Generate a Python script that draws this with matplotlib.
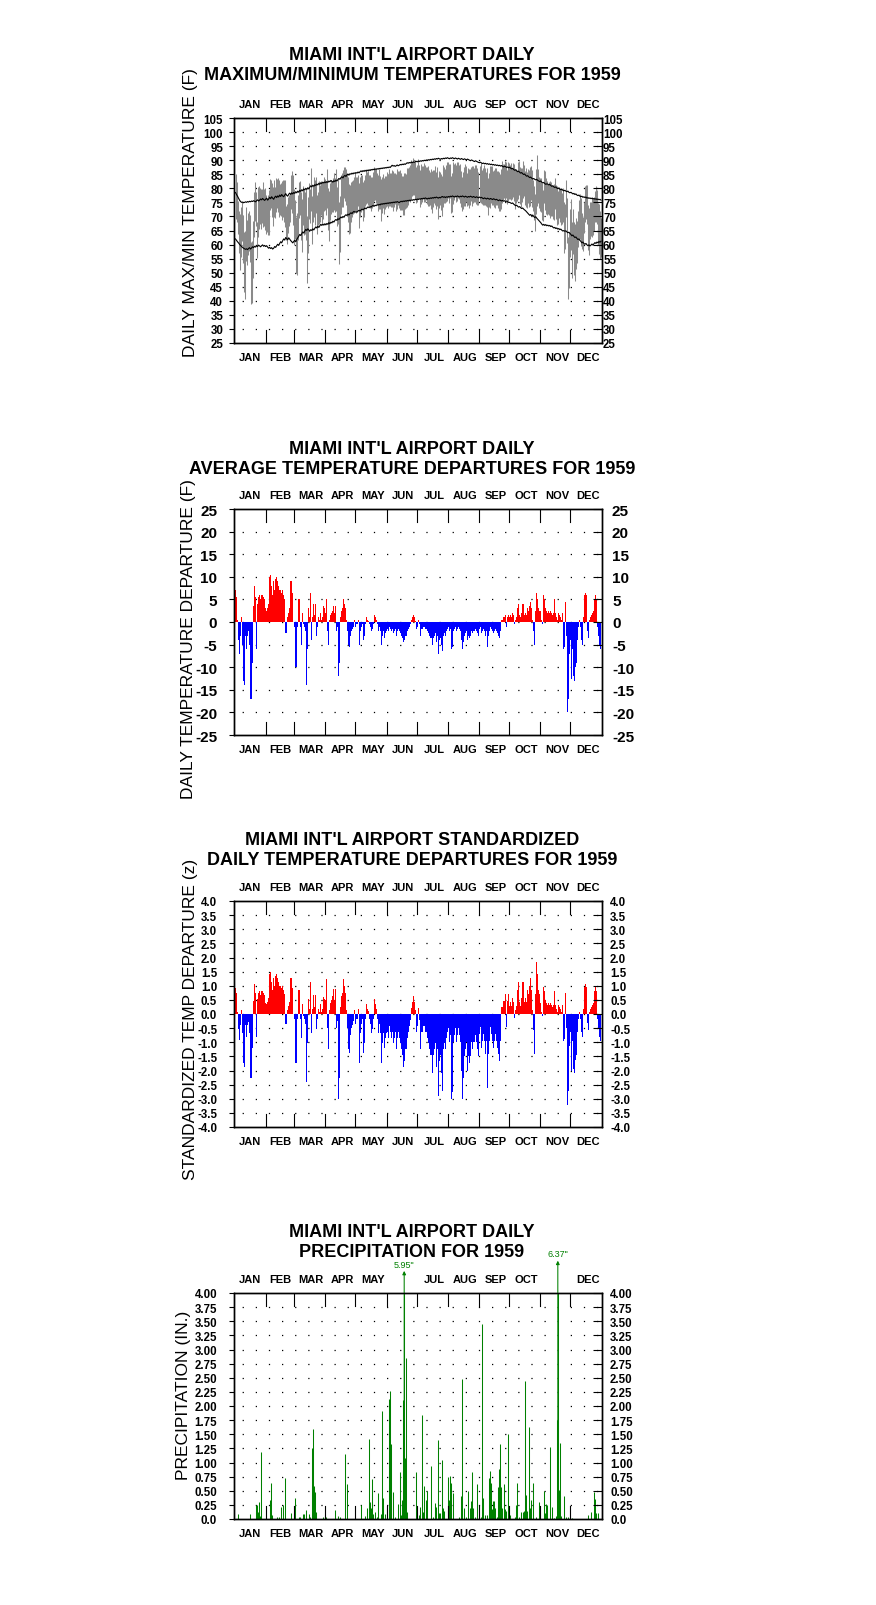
import numpy as np
import matplotlib
matplotlib.use('Agg')
import matplotlib.pyplot as plt
from matplotlib.ticker import FuncFormatter

plt.rcParams['font.family'] = ['Liberation Sans', 'DejaVu Sans']

meses = ['JAN', 'FEB', 'MAR', 'APR', 'MAY', 'JUN', 'JUL', 'AUG', 'SEP', 'OCT', 'NOV', 'DEC']
dias_mes = [31, 28, 31, 30, 31, 30, 31, 31, 30, 31, 30, 31]

# daily normal maximum (F), one list per month
normal_max = [
    [78.5, 77.8, 77.2, 76.5, 75.8, 75.3, 75.0, 75.1, 74.9, 75.0, 75.2, 75.0, 75.3, 75.1, 75.4, 75.2, 75.5, 75.3, 75.6, 75.4, 75.2, 75.6, 75.9, 75.5, 75.8, 76.2, 75.9, 76.4, 76.0, 75.7, 76.1],
    [76.5, 75.8, 76.2, 76.8, 76.3, 77.0, 76.5, 76.1, 76.8, 77.2, 76.7, 77.3, 76.9, 77.6, 77.1, 77.8, 77.3, 77.0, 77.6, 78.1, 77.5, 77.2, 77.9, 78.3, 77.8, 78.4, 78.0, 78.5],
    [78.2, 78.8, 78.4, 79.0, 78.6, 79.3, 78.9, 79.5, 79.1, 79.8, 79.4, 80.0, 79.6, 80.2, 79.8, 80.4, 80.9, 80.5, 81.1, 80.7, 81.3, 81.0, 81.5, 81.2, 81.8, 81.4, 82.0, 81.7, 82.2, 81.9, 82.3],
    [82.0, 82.4, 82.1, 82.6, 82.3, 82.8, 82.5, 82.2, 82.7, 82.4, 82.9, 82.6, 83.1, 83.5, 83.2, 83.8, 84.1, 83.7, 84.3, 84.6, 84.2, 84.8, 85.0, 84.7, 85.2, 85.0, 85.4, 85.1, 85.5, 85.3],
    [85.6, 85.4, 85.8, 85.5, 85.9, 86.2, 85.9, 86.3, 86.0, 86.4, 86.1, 86.5, 86.2, 86.6, 86.3, 86.7, 86.5, 86.8, 86.6, 86.9, 86.7, 87.0, 86.8, 87.1, 86.9, 87.2, 87.0, 87.3, 87.1, 87.4, 87.2],
    [87.5, 87.3, 87.6, 87.4, 87.8, 88.2, 87.9, 88.1, 87.8, 88.0, 88.3, 88.0, 88.2, 88.5, 88.3, 88.6, 88.4, 88.7, 88.5, 88.8, 89.1, 88.9, 89.2, 89.0, 89.3, 89.1, 89.4, 89.2, 89.5, 89.6],
    [89.4, 89.7, 89.5, 89.8, 89.6, 89.9, 89.7, 90.0, 89.8, 90.1, 89.9, 90.2, 90.0, 90.3, 90.1, 90.4, 90.2, 90.5, 90.3, 90.6, 90.4, 90.7, 90.5, 90.3, 90.6, 90.4, 90.7, 90.5, 90.8, 90.6, 90.9],
    [90.7, 90.5, 90.8, 90.6, 90.9, 90.7, 90.5, 90.8, 90.6, 90.4, 90.7, 90.5, 90.3, 90.6, 90.4, 90.2, 90.5, 90.3, 90.1, 90.4, 90.2, 90.0, 89.8, 90.1, 89.9, 89.7, 89.5, 89.8, 89.6, 89.4, 89.2],
    [89.1, 89.3, 89.0, 88.8, 89.0, 88.7, 88.9, 88.6, 88.8, 88.5, 88.7, 88.4, 88.6, 88.3, 88.5, 88.2, 88.4, 88.1, 88.3, 88.0, 88.2, 87.9, 88.1, 87.8, 87.6, 87.9, 87.7, 87.4, 87.6, 87.3],
    [87.5, 87.2, 86.9, 87.1, 86.7, 86.4, 86.6, 86.2, 85.9, 86.1, 85.7, 85.4, 85.6, 85.2, 84.9, 85.1, 84.6, 84.3, 84.5, 84.1, 83.8, 84.0, 83.6, 83.3, 83.5, 83.2, 83.0, 83.2, 82.8, 82.6, 82.4],
    [82.6, 82.2, 81.9, 82.1, 81.7, 81.4, 81.6, 81.5, 81.2, 81.4, 81.0, 80.7, 80.9, 80.5, 80.3, 80.5, 80.1, 79.9, 80.1, 79.7, 79.5, 79.7, 79.3, 79.1, 79.3, 79.0, 78.8, 79.0, 78.6, 78.4],
    [78.6, 78.3, 78.0, 78.2, 77.8, 78.0, 77.6, 77.4, 77.6, 77.2, 77.0, 77.2, 76.8, 77.0, 76.7, 76.9, 76.5, 76.7, 76.4, 76.6, 76.3, 76.5, 76.2, 76.4, 76.1, 76.3, 76.0, 76.2, 75.9, 76.1, 75.8],
]

# daily normal minimum (F)
normal_min = [
    [62.0, 61.5, 61.0, 60.6, 60.1, 59.7, 59.3, 59.0, 58.7, 58.5, 58.3, 58.5, 58.2, 58.6, 58.9, 58.4, 58.8, 59.2, 58.9, 59.4, 59.1, 59.6, 59.3, 59.8, 59.5, 59.2, 59.6, 59.9, 59.4, 59.7, 59.3],
    [59.6, 59.1, 58.7, 59.0, 58.6, 58.9, 58.4, 58.7, 59.3, 59.0, 59.6, 60.1, 59.7, 60.4, 61.0, 60.6, 61.4, 62.0, 61.6, 62.5, 62.1, 61.7, 62.4, 61.9, 61.4, 61.0, 60.6, 61.1],
    [61.5, 61.0, 61.8, 62.4, 63.0, 63.6, 63.2, 63.9, 64.5, 64.1, 64.8, 65.4, 65.0, 65.6, 65.2, 64.8, 65.3, 65.0, 65.6, 65.2, 65.8, 66.3, 65.9, 66.5, 66.1, 66.7, 67.2, 66.8, 67.3, 66.9, 67.4],
    [67.0, 67.5, 67.2, 67.8, 67.4, 68.0, 67.7, 68.3, 68.0, 68.6, 68.9, 68.6, 69.2, 68.9, 69.4, 69.8, 69.5, 70.0, 69.7, 70.3, 70.6, 70.3, 70.8, 70.5, 71.0, 71.3, 71.0, 71.5, 71.8, 71.5],
    [71.7, 71.5, 71.9, 72.2, 71.9, 72.3, 72.6, 72.3, 72.7, 73.0, 72.7, 73.1, 73.4, 73.1, 73.5, 73.3, 73.7, 73.9, 73.6, 74.0, 73.8, 74.2, 74.0, 74.3, 74.1, 74.5, 74.3, 74.6, 74.4, 74.7, 74.5],
    [74.8, 74.6, 74.9, 74.7, 75.0, 74.8, 75.1, 74.9, 75.2, 75.0, 75.3, 75.1, 74.9, 75.2, 75.4, 75.2, 75.5, 75.3, 75.6, 75.4, 75.7, 75.5, 75.8, 75.6, 75.9, 75.7, 76.0, 75.8, 76.1, 75.9],
    [76.2, 76.0, 76.3, 76.1, 76.4, 76.2, 76.5, 76.3, 76.6, 76.4, 76.2, 76.5, 76.3, 76.6, 76.4, 76.7, 76.5, 76.8, 76.6, 76.9, 76.7, 76.5, 76.8, 76.6, 76.9, 77.1, 76.8, 77.0, 76.7, 77.0, 76.8],
    [77.1, 76.9, 77.2, 77.0, 77.3, 77.1, 76.9, 77.2, 77.0, 77.3, 77.1, 76.9, 77.2, 77.0, 77.3, 77.1, 76.9, 77.2, 77.0, 76.8, 77.1, 76.9, 77.2, 77.0, 76.8, 77.1, 76.9, 76.7, 77.0, 76.8, 76.6],
    [76.9, 76.6, 76.8, 76.5, 76.3, 76.6, 76.4, 76.2, 76.5, 76.3, 76.1, 76.4, 76.2, 76.0, 76.3, 76.1, 75.9, 76.1, 75.8, 75.6, 75.9, 75.7, 75.5, 75.7, 75.4, 75.6, 75.3, 75.5, 75.2, 75.0],
    [75.0, 74.8, 74.6, 74.8, 74.4, 74.1, 73.8, 74.0, 73.6, 73.3, 73.5, 73.1, 72.8, 73.0, 72.6, 72.3, 72.0, 71.6, 71.2, 70.8, 70.4, 70.7, 70.2, 70.5, 70.0, 69.6, 69.9, 69.4, 69.0, 68.6, 68.2],
    [67.8, 67.3, 66.9, 67.2, 66.8, 67.1, 66.7, 66.9, 66.6, 66.8, 66.4, 66.6, 66.2, 65.9, 66.1, 65.7, 65.9, 65.5, 65.7, 65.3, 65.5, 65.1, 64.8, 65.0, 64.7, 64.9, 64.5, 64.2, 64.4, 64.0],
    [63.6, 63.1, 63.4, 62.9, 62.5, 62.7, 62.2, 61.8, 62.0, 61.5, 61.1, 60.6, 60.9, 60.4, 60.1, 60.4, 59.9, 59.6, 59.9, 59.5, 59.8, 60.2, 59.8, 60.3, 60.7, 60.4, 60.9, 60.6, 61.1, 60.8, 61.2],
]

# daily average temperature departure from normal (F)
departure = [
    [7, 5.5, 0.5, -4, -7, -3, 1, -5, -13, -14, -3, -6, -3, -2, -5, -17, -17, -9, 3.5, 8, 5.5, -6, 4, 5.5, 6, 5, 6, 6, 5.5, 5, 3],
    [2.5, 3, 4, 10, 10.5, 8, 6, 9, 7, 9.5, 10, 9, 8, 7, 7, 6.5, 7, 6, 5, -2.5, -2.5, 1, 2, 3, 9, 9, 6.5, 0],
    [-1, -10, -10, -1, 5, 5, -1, -5, 2, -0.5, -1, -2, -14, -6, 3, 1, 6.5, -4, 1, 4, 1.5, 4, -3, -1, 1, 0.5, 2, 0.5, 1, 3.5, 3],
    [2, 5, -2, -5, 0.5, 1.5, 2, 2.5, 3.5, 2, 3.5, -2, -1, -12, -9, 1, 2.5, 3, 5, 4, 3, 0.5, -2, -5, -5.5, -3, -2, -1.5, -1, 0.5],
    [-1, -0.5, 0.5, -5, -2, -1, -0.5, -4, -3, -0.5, 1, 0.5, 0.3, -0.5, -1, -2, -1.5, -0.5, 1.5, 1, 0.5, -0.5, -2, -1, -2, -5, -3, -2, -3.5, -2.5, -2],
    [-1.5, -2, -1, -1.5, -2, -1.5, -2.5, -2, -1.5, -3, -2, -1.5, -2, -2.5, -3, -3.5, -4.5, -4, -3, -3, -2, -1.5, -1, -0.5, 0.5, 1, 1.5, 1, 0.3, -1.5],
    [-1, 0.5, -0.5, -3, -1.5, -1.5, -1, -1, -1.5, -1.5, -2, -2.5, -3, -3.5, -3.5, -5, -3.5, -3, -2.5, -4.5, -3, -7, -4, -3.5, -5, -6.5, -3, -2.5, -3, -2, -1.5],
    [-1, -2, -1.5, -6, -5.5, -2, -1.5, -1, -2, -1.5, -1, -1.5, -2, -4, -6, -4.5, -3, -2.5, -2, -4, -3, -3.5, -3, -2, -2.5, -2, -2, -1.5, -2, -2.5, -3],
    [-1.5, -1, -2.5, -2, -1.5, -2, -3, -2, -5.5, -3, -2, -1, -1.5, -2, -2.5, -2, -1.5, -2, -2.5, -3, -3.5, -2, 0.5, 0.5, 1, 1, 1.5, -1, 1, 1.5],
    [1, 1.5, 1, 2, 1.5, -0.5, 0.5, 1, 3, 4, 1.5, 1, 2, 4, 4, 1.5, 2, 1.5, 3, 2.5, 3.5, 4.5, 3, 0.5, -2, -5, 2.5, 6.5, 5, 3, 2.5],
    [2.5, 0.5, -0.5, 6, 5, 3, 2.5, 2, 2.5, 2, 2.5, 2, 1.5, 2, 5, 2, 1, 0.5, 2, 1.5, 1, 0.5, 2, -6, -5.5, 4.5, -3, -20, -17, -7],
    [-4, -12.5, -6, -12, -13, -10, -9, -4, -1, 0.5, -1, -4, -5, 1, 6, 6.5, 6, -2, -3.5, 0.5, 1, 1.5, 2, 2.5, 5, 6, 5, -1, -3, -5, -6],
]

# daily max-min spread (F)
rango = [
    [16, 14, 12, 15, 20, 18, 14, 17, 21, 24, 19, 16, 15, 14, 17, 22, 22, 20, 16, 14, 12, 13, 18, 15, 13, 14, 12, 16, 13, 15, 14],
    [12, 14, 16, 11, 10, 12, 14, 13, 11, 12, 10, 12, 13, 11, 12, 14, 13, 15, 17, 12, 14, 13, 11, 10, 12, 15, 18, 20],
    [14, 20, 22, 16, 13, 12, 17, 19, 14, 16, 15, 18, 24, 20, 13, 12, 15, 17, 13, 14, 16, 13, 14, 12, 15, 13, 12, 14, 13, 12, 11],
    [12, 14, 15, 18, 13, 12, 11, 12, 13, 12, 15, 14, 16, 22, 20, 14, 12, 13, 11, 12, 13, 15, 16, 18, 17, 14, 13, 12, 13, 14],
    [13, 12, 11, 16, 14, 13, 12, 14, 13, 11, 12, 11, 12, 11, 12, 12, 11, 12, 12, 11, 12, 11, 13, 14, 12, 15, 13, 12, 13, 12, 11],
    [12, 12, 13, 12, 12, 13, 14, 12, 11, 13, 14, 12, 13, 14, 13, 12, 14, 15, 13, 12, 14, 13, 12, 13, 14, 12, 13, 12, 14, 13],
    [13, 14, 12, 13, 14, 13, 12, 14, 13, 12, 13, 14, 13, 12, 14, 15, 13, 12, 14, 13, 14, 15, 13, 12, 13, 14, 15, 13, 12, 13, 14],
    [13, 14, 12, 13, 14, 15, 13, 12, 13, 14, 13, 12, 14, 13, 12, 13, 14, 15, 13, 12, 13, 14, 13, 12, 14, 13, 12, 13, 14, 13, 12],
    [13, 14, 12, 13, 14, 13, 12, 14, 13, 12, 15, 13, 14, 12, 13, 14, 13, 12, 13, 14, 13, 14, 15, 13, 12, 14, 13, 12, 14, 13],
    [12, 13, 11, 12, 13, 14, 12, 11, 13, 12, 13, 14, 12, 13, 11, 12, 14, 13, 12, 13, 14, 12, 13, 11, 12, 13, 16, 18, 12, 11, 12],
    [12, 13, 11, 12, 14, 13, 12, 11, 12, 13, 12, 11, 12, 13, 11, 12, 14, 12, 11, 12, 13, 11, 12, 18, 16, 13, 16, 22, 20, 17],
    [18, 20, 16, 19, 20, 18, 15, 13, 14, 16, 17, 13, 12, 11, 13, 12, 14, 16, 17, 13, 12, 14, 13, 12, 11, 13, 12, 15, 18, 17, 14],
]

# standard deviation of daily mean temperature by month (F)
desv_std = [7.5, 7.0, 5.8, 4.0, 2.9, 2.4, 2.4, 2.0, 2.1, 3.5, 6.2, 6.2]

# rain days (day of year, 0 = Jan 1) and amounts (in.)
lluvia_dia = [2, 14, 20, 21, 22, 23, 24, 25,
              34, 35, 36, 41, 43, 45, 47, 49, 55,
              59, 63, 64, 67, 68, 70, 73, 74, 76, 77, 78, 79, 80, 87, 89,
              90, 99, 102, 104, 109, 111,
              125, 129, 131, 133, 134, 135, 136, 137, 139, 141, 142, 145, 146, 147, 149,
              153, 154, 155, 157, 159, 162, 164, 165, 166, 167, 168, 169, 170, 171, 180,
              183, 184, 186, 187, 188, 190, 191, 195, 197, 199, 200, 202, 203, 204, 206, 207, 208,
              212, 213, 214, 215, 217, 223, 225, 226, 228, 230, 232, 234, 235, 236, 237, 239, 241,
              244, 245, 246, 248, 250, 252, 253, 254, 255, 256, 257, 258, 260, 261, 262, 263, 264, 265, 267, 268, 269, 271,
              273, 278, 279, 280, 282, 284, 286, 287, 288, 289, 290, 292, 293, 294, 296, 299, 302,
              307, 308, 309, 310, 313, 315, 317, 319, 320, 321, 322, 323, 324, 327, 329, 331, 333,
              335, 351, 354, 357, 358, 359, 361]
lluvia = [0.09, 0.09, 0.25, 0.25, 0.12, 0.30, 0.05, 1.19,
          0.33, 0.64, 0.07, 0.04, 0.04, 0.21, 0.24, 0.72, 0.10,
          0.37, 0.04, 0.04, 0.09, 0.08, 0.16, 0.09, 0.03, 1.25, 1.59, 0.59, 0.48, 0.13, 0.03, 0.07,
          0.03, 0.16, 0.05, 0.03, 1.15, 0.62,
          0.25, 0.05, 0.19, 1.42, 0.30, 0.20, 0.71, 0.09, 0.12, 0.03, 0.46, 0.09, 1.92, 0.37, 0.09,
          2.12, 2.27, 1.32, 0.48, 0.04, 0.26, 0.83, 0.07, 0.33, 2.10, 5.95, 1.08, 2.85, 0.12, 0.83,
          0.07, 0.22, 1.84, 0.12, 0.58, 0.34, 0.49, 0.94, 0.04, 0.29, 0.22, 1.39, 0.10, 0.10, 1.05, 0.20, 0.15,
          0.75, 0.33, 0.76, 0.63, 0.46, 0.03, 0.40, 2.47, 0.20, 0.03, 0.49, 0.20, 0.32, 0.83, 0.20, 0.03, 0.62,
          0.04, 3.46, 0.37, 0.07, 0.07, 0.72, 0.85, 0.64, 0.17, 0.32, 0.32, 0.20, 0.03, 0.56, 0.89, 1.33, 0.57, 0.20, 0.62, 0.17, 0.15, 1.51,
          0.07, 0.03, 0.25, 0.63, 0.04, 0.13, 0.12, 0.15, 2.45, 0.42, 0.15, 1.62, 0.20, 0.33, 0.64, 0.04, 0.30,
          0.50, 0.10, 0.26, 0.25, 1.27, 0.22, 0.02, 0.05, 1.75, 6.37, 0.52, 1.34, 0.05, 0.40, 0.03, 0.03, 0.02,
          0.02, 0.07, 0.12, 0.47, 0.35, 0.10, 0.10]

assert len(lluvia_dia) == len(lluvia)

# ---- derived daily series ----
nmax = np.concatenate(normal_max)
nmin = np.concatenate(normal_min)
dep = np.concatenate(departure).astype(float)
rng = np.concatenate(rango).astype(float)
tavg = (nmax + nmin) / 2 + dep
tmax = tavg + rng / 2
tmin = tavg - rng / 2
z = dep / np.repeat(desv_std, dias_mes)
precip = np.zeros(365)
precip[lluvia_dia] = lluvia
x = np.arange(365) + 0.5

inicio = np.cumsum([0] + dias_mes[:-1])
x_mes = 14.7 + 30.6 * np.arange(12)

W, H = 876, 1606
fig = plt.figure(figsize=(W / 100, H / 100), dpi=100)


def caja(top, bottom):
    return fig.add_axes([234 / W, 1 - bottom / H, (602 - 234) / W, (bottom - top) / H])


def preparar(ax, lim, ticks, fmt, tam, pad_izq, pad_der, arriba=meses):
    alto = ax.get_position().height * H
    ax.set_xlim(-1, 365.5)
    ax.set_ylim(*lim)
    ax.set_xticks([])
    ax.set_yticks(ticks)
    ax.yaxis.set_major_formatter(FuncFormatter(fmt))
    ax.tick_params(axis='y', left=False, labelsize=tam, pad=pad_izq)
    plt.setp(ax.get_yticklabels(), fontweight='bold')
    for s in ax.spines.values():
        s.set_linewidth(1.0)

    der = ax.twinx()
    der.set_ylim(*lim)
    der.set_yticks(ticks)
    der.yaxis.set_major_formatter(FuncFormatter(fmt))
    der.tick_params(axis='y', direction='in', length=6.5, width=0.8, labelsize=tam, pad=pad_der)
    plt.setp(der.get_yticklabels(), fontweight='bold')
    for s in der.spines.values():
        s.set_linewidth(1.0)

    # dotted grid rows
    ax.hlines(ticks[1:-1], -1, 365.5, colors='black', linewidth=0.9,
              linestyles=[(4, (1, 9.5))], zorder=0.5)

    # month boundary ticks, top and bottom
    for b in inicio[1:]:
        ax.axvline(b, 0, 13 / alto, color='black', lw=0.8)
        ax.axvline(b, 1 - 13 / alto, 1, color='black', lw=0.8)

    trans = ax.get_xaxis_transform()
    for i, m in enumerate(meses):
        if m in arriba:
            ax.text(x_mes[i], 1 + 14 / alto, m, transform=trans, ha='center', va='center',
                    fontsize=8, fontweight='bold')
        ax.text(x_mes[i], -14 / alto, m, transform=trans, ha='center', va='center',
                fontsize=8, fontweight='bold')


def titulo(linea1, linea2, y1):
    fig.text(412 / W, 1 - y1 / H, linea1, ha='center', va='center', fontsize=13, fontweight='bold')
    fig.text(412 / W, 1 - (y1 + 20) / H, linea2, ha='center', va='center', fontsize=13, fontweight='bold')


def etiqueta_y(texto, xp, yp):
    fig.text(xp / W, 1 - yp / H, texto, rotation=90, ha='center', va='center', fontsize=12.5)


# ---- panel 1: max/min temperatures ----
ax1 = caja(119, 344)
ax1.vlines(x, tmin, tmax, color='#8a8a8a', lw=0.75, zorder=2)
ax1.plot(x, nmax, color='black', lw=0.8, zorder=3)
ax1.plot(x, nmin, color='black', lw=0.8, zorder=3)
preparar(ax1, (25, 105), np.arange(25, 106, 5), lambda v, p: f'{v:.0f}', 8.3, 4.3, 0.8)
titulo("MIAMI INT'L AIRPORT DAILY", "MAXIMUM/MINIMUM TEMPERATURES FOR 1959", 56)
etiqueta_y('DAILY MAX/MIN TEMPERATURE (F)', 191, 213)

# ---- panel 2: average temperature departures ----
ax2 = caja(510, 736)
colores = np.where(dep >= 0, '#ff0000', '#0000ff')
ax2.bar(x, dep, width=1.0, color=colores, linewidth=0, zorder=2)
preparar(ax2, (-25, 25), np.arange(-25, 26, 5), lambda v, p: f'{v:.0f}', 11, 8.6, 7.2)
titulo("MIAMI INT'L AIRPORT DAILY", "AVERAGE TEMPERATURE DEPARTURES FOR 1959", 449)
etiqueta_y('DAILY TEMPERATURE DEPARTURE (F)', 188.5, 639)

# ---- panel 3: standardized departures ----
ax3 = caja(902, 1128)
colores = np.where(z >= 0, '#ff0000', '#0000ff')
ax3.bar(x, z, width=1.0, color=colores, linewidth=0, zorder=2)
preparar(ax3, (-4, 4), np.arange(-4, 4.01, 0.5), lambda v, p: f'{v:.1f}', 8.3, 8.6, 5.8)
titulo("MIAMI INT'L AIRPORT STANDARDIZED", "DAILY TEMPERATURE DEPARTURES FOR 1959", 841)
etiqueta_y('STANDARDIZED TEMP DEPARTURE (z)', 191, 1019)

# ---- panel 4: precipitation ----
ax4 = caja(1294, 1520)
ax4.vlines(x, 0, precip, color='#008000', lw=0.75, zorder=2)
for d, v in zip(lluvia_dia, lluvia):
    if v > 4:
        # off-scale days: arrow above the frame, compressed height
        tope = 4 + 0.43 * (v - 5.04)
        ax4.annotate('', xy=(d + 0.5, tope), xytext=(d + 0.5, 0),
                     arrowprops=dict(arrowstyle='-|>', color='#008000', lw=0.75,
                                     mutation_scale=5, shrinkA=0, shrinkB=0),
                     annotation_clip=False, zorder=3)
        ax4.text(d + 0.5, tope + 0.12, f'{v:.2f}"', color='#008000', fontsize=6.5,
                 ha='center', va='center')
preparar(ax4, (0, 4), np.arange(0, 4.01, 0.25),
         lambda v, p: '0.0' if abs(v) < 1e-9 else f'{v:.2f}', 8.3, 8.6, 5.8,
         arriba=[m for m in meses if m not in ('JUN', 'NOV')])
titulo("MIAMI INT'L AIRPORT DAILY", "PRECIPITATION FOR 1959", 1233)
etiqueta_y('PRECIPITATION (IN.)', 183.5, 1395)

fig.savefig('out.png', dpi=100)
